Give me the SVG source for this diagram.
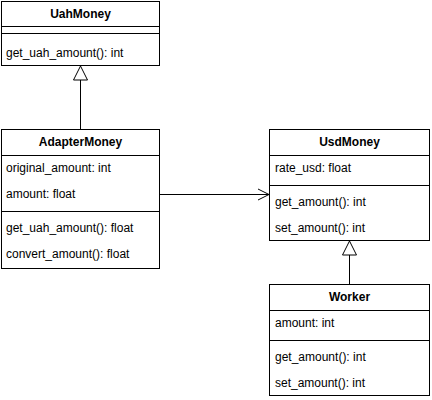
<svg xmlns="http://www.w3.org/2000/svg" width="432" height="400" viewBox="0 0 432 400">
<style>
.box{fill:#fff;stroke:#000;stroke-width:1}
.ln{stroke:#000;stroke-width:1;fill:none}
text{font-family:"Liberation Sans",Arial,sans-serif;font-size:12px;fill:#000}
.h{font-weight:bold;text-anchor:middle}
</style>
<rect width="432" height="400" fill="#fff"/>
<g id="connectors">
<path class="ln" d="M80.5 129.5 V80"/>
<path d="M80.5 66 L87.5 80 L73.5 80 Z" fill="#fff" stroke="#000"/>
<path class="ln" d="M159.5 194.5 H269"/>
<path class="ln" d="M258 189 L269 194.5 L258 200"/>
<path class="ln" d="M349.5 284.5 V255"/>
<path d="M349.5 241 L356.5 255 L342.5 255 Z" fill="#fff" stroke="#000"/>
</g>
<g id="UahMoney">
<rect class="box" x="1.5" y="1.5" width="158" height="64"/>
<line class="ln" x1="1.5" y1="26.5" x2="159.5" y2="26.5"/>
<line class="ln" x1="1.5" y1="33.5" x2="159.5" y2="33.5"/>
<text class="h" x="80.5" y="18">UahMoney</text>
<text x="6" y="57">get_uah_amount(): int</text>
</g>
<g id="AdapterMoney">
<rect class="box" x="1.5" y="129.5" width="158" height="139"/>
<line class="ln" x1="1.5" y1="155.5" x2="159.5" y2="155.5"/>
<line class="ln" x1="1.5" y1="211.5" x2="159.5" y2="211.5"/>
<text class="h" x="80.5" y="146">AdapterMoney</text>
<text x="6" y="172">original_amount: int</text>
<text x="6" y="198">amount: float</text>
<text x="6" y="232">get_uah_amount(): float</text>
<text x="6" y="258">convert_amount(): float</text>
</g>
<g id="UsdMoney">
<rect class="box" x="269.5" y="129.5" width="160" height="111"/>
<line class="ln" x1="269.5" y1="155.5" x2="429.5" y2="155.5"/>
<line class="ln" x1="269.5" y1="185.5" x2="429.5" y2="185.5"/>
<text class="h" x="349.5" y="146">UsdMoney</text>
<text x="275" y="172">rate_usd: float</text>
<text x="275" y="206">get_amount(): int</text>
<text x="275" y="232">set_amount(): int</text>
</g>
<g id="Worker">
<rect class="box" x="269.5" y="284.5" width="160" height="111"/>
<line class="ln" x1="269.5" y1="310.5" x2="429.5" y2="310.5"/>
<line class="ln" x1="269.5" y1="340.5" x2="429.5" y2="340.5"/>
<text class="h" x="349.5" y="301">Worker</text>
<text x="275" y="327">amount: int</text>
<text x="275" y="361">get_amount(): int</text>
<text x="275" y="387">set_amount(): int</text>
</g>
</svg>
